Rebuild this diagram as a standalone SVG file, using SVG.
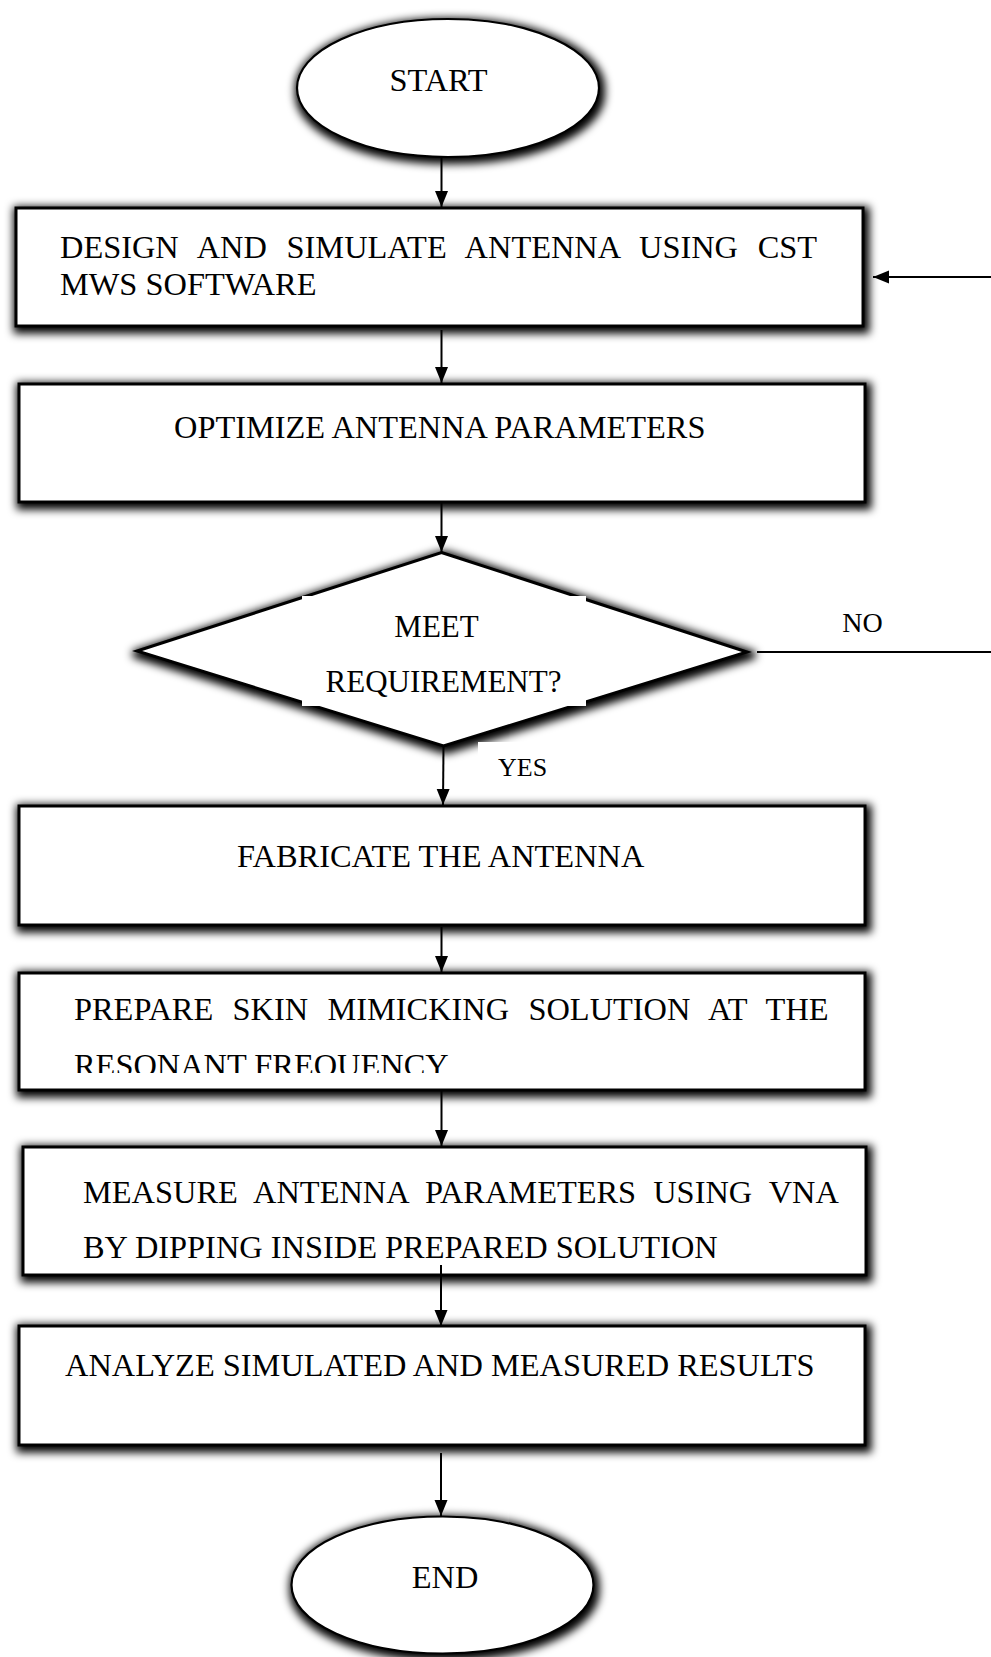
<svg xmlns="http://www.w3.org/2000/svg" width="991" height="1657" viewBox="0 0 991 1657">
<style>
.bx{fill:#fff;stroke:#000;stroke-width:3}
.el{fill:#fff;stroke:#000;stroke-width:2.2}
.t{font-family:"Liberation Serif","Times New Roman",serif;font-size:32.4px;fill:#000}
.c{stroke:#000;stroke-width:2;fill:none}
</style>
<defs>
<filter id="sh" x="-10%" y="-20%" width="120%" height="140%">
<feMorphology in="SourceAlpha" operator="dilate" radius="3"/>
<feGaussianBlur stdDeviation="4"/>
<feOffset dx="2" dy="3"/>
<feComponentTransfer><feFuncA type="linear" slope="1"/></feComponentTransfer>
<feMerge><feMergeNode/><feMergeNode in="SourceGraphic"/></feMerge>
</filter>
<marker id="ah" markerUnits="userSpaceOnUse" markerWidth="16" markerHeight="14" refX="16" refY="7" orient="auto">
<path d="M0,0.5 L16,7 L0,13.5 z" fill="#000"/>
</marker>
<clipPath id="clip4"><rect x="19" y="972" width="846" height="101"/></clipPath>
</defs>
<rect width="991" height="1657" fill="#fff"/>

<g id="start">
<ellipse class="el" cx="448" cy="88" rx="151" ry="69" filter="url(#sh)"/>
<text class="t" x="438.5" y="91" text-anchor="middle">START</text>
</g>

<g id="design">
<rect class="bx" x="16" y="208" width="847" height="118" filter="url(#sh)"/>
<text class="t" x="60" y="258" word-spacing="11.6">DESIGN AND SIMULATE ANTENNA USING CST</text>
<text class="t" x="60" y="295">MWS SOFTWARE</text>
</g>

<g id="optimize">
<rect class="bx" x="19" y="384" width="846" height="118" filter="url(#sh)"/>
<text class="t" x="174" y="438">OPTIMIZE ANTENNA PARAMETERS</text>
</g>

<g id="decision">
<polygon class="bx" points="441.5,552.5 747,652 443.5,746 137,651" filter="url(#sh)"/>
<rect x="302" y="596" width="284" height="110" fill="#fff"/>
<text class="t" style="font-size:31px" x="436.5" y="636.5" text-anchor="middle">MEET</text>
<text class="t" style="font-size:31px" x="443.5" y="691.5" text-anchor="middle">REQUIREMENT?</text>
</g>

<g id="fabricate">
<rect class="bx" x="19" y="806" width="846" height="119" filter="url(#sh)"/>
<text class="t" x="237" y="866.5">FABRICATE THE ANTENNA</text>
</g>

<g id="prepare">
<rect class="bx" x="19" y="973" width="846" height="117" filter="url(#sh)"/>
<text class="t" x="74" y="1020" word-spacing="11.2">PREPARE SKIN MIMICKING SOLUTION AT THE</text>
<text class="t" x="74" y="1076" clip-path="url(#clip4)">RESONANT FREQUENCY</text>
</g>

<g id="measure">
<rect class="bx" x="23" y="1147" width="843" height="128" filter="url(#sh)"/>
<text class="t" x="83" y="1203" word-spacing="9">MEASURE ANTENNA PARAMETERS USING VNA</text>
<text class="t" x="83" y="1258">BY DIPPING INSIDE PREPARED SOLUTION</text>
</g>

<g id="analyze">
<rect class="bx" x="19" y="1326" width="846" height="119" filter="url(#sh)"/>
<text class="t" x="65" y="1376">ANALYZE SIMULATED AND MEASURED RESULTS</text>
</g>

<g id="end">
<ellipse class="el" cx="442.5" cy="1585" rx="151" ry="68.5" filter="url(#sh)"/>
<text class="t" x="445" y="1588" text-anchor="middle">END</text>
</g>

<g id="connectors">
<line class="c" x1="441.5" y1="157" x2="441.5" y2="207" marker-end="url(#ah)"/>
<line class="c" x1="441.5" y1="330" x2="441.5" y2="383" marker-end="url(#ah)"/>
<line class="c" x1="441.5" y1="503" x2="441.5" y2="552" marker-end="url(#ah)"/>
<line class="c" x1="443.5" y1="746" x2="443" y2="805" marker-end="url(#ah)"/>
<line class="c" x1="441.5" y1="927" x2="441.5" y2="972" marker-end="url(#ah)"/>
<line class="c" x1="441.5" y1="1091" x2="441.5" y2="1146" marker-end="url(#ah)"/>
<line class="c" x1="441" y1="1265" x2="441" y2="1326" marker-end="url(#ah)"/>
<line class="c" x1="441" y1="1453" x2="441" y2="1516" marker-end="url(#ah)"/>
<path class="c" d="M757,652 H1010 V277 H873" marker-end="url(#ah)"/>
<rect x="478" y="742" width="100" height="51" fill="#fff"/>
<text class="t" style="font-size:26px" x="498" y="776">YES</text>
<text class="t" style="font-size:28px" x="862.5" y="632" text-anchor="middle">NO</text>
</g>
</svg>
